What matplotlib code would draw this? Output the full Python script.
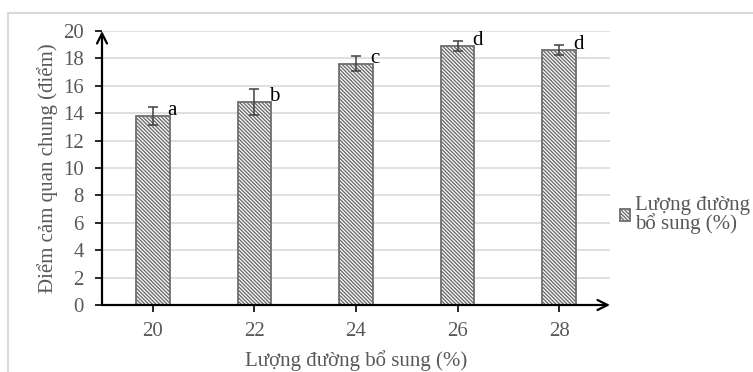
import matplotlib
matplotlib.use("Agg")
import matplotlib.pyplot as plt
from matplotlib.patches import Rectangle
import numpy as np

# dữ liệu
categories = ["20", "22", "24", "26", "28"]
scores = [13.8, 14.85, 17.6, 18.9, 18.6]
errors = [0.65, 0.95, 0.55, 0.35, 0.35]
letters = ["a", "b", "c", "d", "d"]
yticks = [0, 2, 4, 6, 8, 10, 12, 14, 16, 18, 20]

plt.rcParams["font.family"] = ["Liberation Serif", "DejaVu Serif"]
plt.rcParams["hatch.linewidth"] = 1.0

gray_text = "#595959"
fs = 15

fig = plt.figure(figsize=(7.53, 3.72), dpi=100)
ax = fig.add_axes([102 / 753, 1 - 305 / 372, 508 / 753, 274 / 372])

x = np.arange(len(categories))
ax.bar(x, scores, width=0.33, color="white", edgecolor="#6e6e6e",
       linewidth=1.3, hatch="\\" * 9, label="Lượng đường\nbổ sung (%)", zorder=2)
ax.errorbar(x, scores, yerr=errors, fmt="none", ecolor="#404040",
            elinewidth=1.1, capsize=3.5, capthick=1.1, zorder=3)

# chữ cái thống kê
for xi, yi, s in zip(x, scores, letters):
    ax.text(xi + 0.14, yi + 0.05, s, fontsize=fs, color="black",
            ha="left", va="baseline", zorder=4)

ax.set_xlim(-0.5, len(categories) - 0.5)
ax.set_ylim(0, 20)
ax.set_xticks(x)
ax.set_xticklabels(categories)
ax.set_yticks(yticks)
ax.tick_params(axis="both", labelsize=fs, labelcolor=gray_text, color="black",
               length=5, width=1.2, direction="out")
ax.tick_params(axis="y", pad=8)
ax.tick_params(axis="x", pad=7)

ax.grid(axis="y", color="#d9d9d9", linewidth=1.2, zorder=0)
ax.set_axisbelow(True)
for sp in ax.spines.values():
    sp.set_visible(False)

# trục có mũi tên
arrow = dict(arrowstyle="->", lw=1.6, color="black", mutation_scale=18,
             shrinkA=0, shrinkB=0)
ax.annotate("", xy=(0, 1.0), xytext=(0, 0), xycoords="axes fraction",
            arrowprops=arrow, annotation_clip=False)
ax.annotate("", xy=(1.0, 0), xytext=(0, 0), xycoords="axes fraction",
            arrowprops=arrow, annotation_clip=False)

ax.set_xlabel("Lượng đường bổ sung (%)", fontsize=fs, color=gray_text)
ax.set_ylabel("Điểm cảm quan chung (điểm)", fontsize=fs, color=gray_text)
ax.xaxis.set_label_coords(0.5, -0.163)
ax.yaxis.set_label_coords(-0.086, 0.5)

leg = fig.legend(loc="upper left", bbox_to_anchor=(620 / 753, 1 - 196 / 372),
                 frameon=False, fontsize=fs, handlelength=0.5, handleheight=0.5,
                 handletextpad=0.2, borderpad=0, borderaxespad=0,
                 labelcolor=gray_text)
for t in leg.get_texts():
    t.set_linespacing(0.88)

# khung biểu đồ
fig.patches.append(Rectangle((8 / 753, -0.5), 2, 1 - 13 / 372 + 0.5,
                             transform=fig.transFigure, fill=False,
                             edgecolor="#d9d9d9", linewidth=1.5))

fig.savefig("out.png", dpi=100)
